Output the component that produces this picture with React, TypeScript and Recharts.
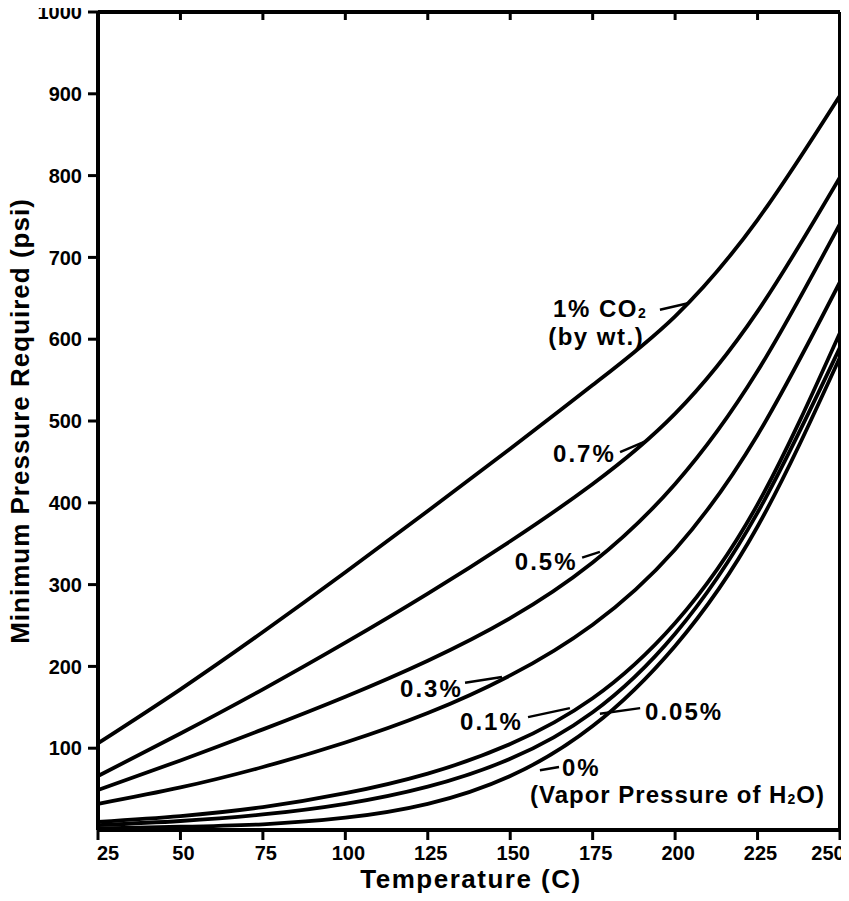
import React from "react";
import {
  LineChart,
  Line,
  XAxis,
  YAxis,
  ReferenceLine,
  ReferenceDot,
} from "recharts";

const FONT = '"Liberation Sans", Arial, Helvetica, sans-serif';

// temperature (C)
const temps = [25, 50, 75, 100, 125, 150, 175, 200, 225, 250];

// minimum pressure (psi) for each CO2 content
const co2_100 = [106, 172, 242, 315, 390, 466, 544, 628, 746, 898];
const co2_070 = [66, 118, 172, 229, 289, 353, 423, 509, 634, 798];
const co2_050 = [49, 85, 123, 163, 207, 259, 327, 423, 561, 741];
const co2_030 = [32, 52, 77, 107, 143, 189, 251, 343, 483, 670];
const co2_010 = [10, 17, 28, 45, 69, 105, 161, 253, 398, 608];
const co2_005 = [6, 11, 19, 32, 53, 87, 144, 240, 388, 590];
const co2_000 = [2, 4, 7, 15, 32, 66, 127, 225, 371, 578];

const xTicks = [25, 50, 75, 100, 125, 150, 175, 200, 225, 250];
const yTicks = [100, 200, 300, 400, 500, 600, 700, 800, 900, 1000];
const yTicksRight = [100, 200, 300, 400, 500, 600, 700, 800, 900];

const seriesKeys = ["c100", "c070", "c050", "c030", "c010", "c005", "c000"];
const seriesValues = [co2_100, co2_070, co2_050, co2_030, co2_010, co2_005, co2_000];

const data = temps.map((t, i) => {
  const row: Record<string, number> = { t };
  seriesKeys.forEach((k, j) => {
    row[k] = seriesValues[j][i];
  });
  return row;
});

// curve labels: anchor (temp, psi) is the text start / baseline
type Part = { s: string; sub?: boolean };
const curveLabels: { t: number; p: number; ls: number; parts: Part[] }[] = [
  { t: 163, p: 627, ls: 1.5, parts: [{ s: "1% CO" }, { s: "2", sub: true }] },
  { t: 161.5, p: 593, ls: 1.5, parts: [{ s: "(by wt.)" }] },
  { t: 163, p: 450, ls: 2, parts: [{ s: "0.7%" }] },
  { t: 151.4, p: 318, ls: 2, parts: [{ s: "0.5%" }] },
  { t: 116.6, p: 163, ls: 2, parts: [{ s: "0.3%" }] },
  { t: 134.8, p: 122, ls: 2, parts: [{ s: "0.1%" }] },
  { t: 190.9, p: 134, ls: 2, parts: [{ s: "0.05%" }] },
  { t: 165.7, p: 66, ls: 2, parts: [{ s: "0%" }] },
  {
    t: 156,
    p: 33,
    ls: 1,
    parts: [{ s: "(Vapor Pressure of H" }, { s: "2", sub: true }, { s: "O)" }],
  },
];

// leader lines from label to curve
const leaders: [number, number, number, number][] = [
  [195.4, 636, 203.9, 644],
  [183.3, 462, 191.5, 476],
  [171.8, 333, 177.2, 340],
  [136.3, 180, 147.5, 187],
  [155.4, 138, 168.1, 149],
  [189.4, 149, 177.2, 142],
  [159.0, 73, 164.8, 77],
];

const XTick = (props: any) => {
  const { x, y, payload } = props;
  const v = payload.value;
  const shift = v === 25 ? 10 : v === 250 ? -12 : 3;
  return (
    <text
      x={x + shift}
      y={y}
      dy="0.71em"
      textAnchor="middle"
      fill="#000"
      fontFamily={FONT}
      fontWeight={700}
      fontSize={20}
    >
      {v}
    </text>
  );
};

const renderLabel = (parts: Part[], ls: number) => (p: any) =>
  (
    <text
      x={p.cx}
      y={p.cy}
      fill="#000"
      fontFamily={FONT}
      fontWeight={700}
      fontSize={24}
      letterSpacing={ls}
    >
      {parts.map((part, i) =>
        part.sub ? (
          <tspan key={i} fontSize={14} dy={1}>
            {part.s}
          </tspan>
        ) : (
          <tspan key={i} dy={i > 0 ? -1 : 0}>
            {part.s}
          </tspan>
        )
      )}
    </text>
  );

const axisLine = { stroke: "#000", strokeWidth: 4 };
const tickLine = { stroke: "#000", strokeWidth: 3 };

export default function App() {
  return (
    <div
      style={{
        width: 849,
        height: 901,
        marginLeft: -8,
        marginTop: -8,
        background: "#fff",
      }}
    >
      <LineChart
        width={849}
        height={901}
        data={data}
        margin={{ top: 12, right: 9, bottom: 0, left: 8 }}
      >
        <XAxis
          xAxisId="b"
          dataKey="t"
          type="number"
          domain={[25, 250]}
          ticks={xTicks}
          height={71}
          tickSize={10}
          tickMargin={6}
          axisLine={axisLine}
          tickLine={tickLine}
          tick={<XTick />}
          interval={0}
          label={{
            content: (p: any) => (
              <text
                x={p.viewBox.x + p.viewBox.width / 2 + 2}
                y={p.viewBox.y + 58}
                textAnchor="middle"
                fill="#000"
                fontFamily={FONT}
                fontWeight={700}
                fontSize={26}
                letterSpacing={1.5}
              >
                Temperature (C)
              </text>
            ),
          }}
        />
        <XAxis
          xAxisId="t"
          dataKey="t"
          type="number"
          orientation="top"
          mirror
          domain={[25, 250]}
          ticks={xTicks}
          tickSize={8}
          axisLine={axisLine}
          tickLine={tickLine}
          tickFormatter={() => ""}
          interval={0}
        />
        <YAxis
          yAxisId="l"
          type="number"
          domain={[0, 1000]}
          ticks={yTicks}
          width={90}
          tickSize={10}
          tickMargin={6}
          axisLine={axisLine}
          tickLine={tickLine}
          interval={0}
          tick={{
            fill: "#000",
            fontFamily: FONT,
            fontWeight: 700,
            fontSize: 20,
          }}
          label={{
            content: (p: any) => {
              const cx = 29;
              const cy = p.viewBox.y + p.viewBox.height / 2;
              return (
                <text
                  x={cx}
                  y={cy}
                  transform={`rotate(-90 ${cx} ${cy})`}
                  textAnchor="middle"
                  fill="#000"
                  fontFamily={FONT}
                  fontWeight={700}
                  fontSize={26}
                  letterSpacing={1}
                >
                  Minimum Pressure Required (psi)
                </text>
              );
            },
          }}
        />
        <YAxis
          yAxisId="r"
          orientation="right"
          mirror
          type="number"
          domain={[0, 1000]}
          ticks={yTicksRight}
          tickSize={8}
          axisLine={axisLine}
          tickLine={tickLine}
          tickFormatter={() => ""}
          interval={0}
        />

        {seriesKeys.map((k) => (
          <Line
            key={k}
            xAxisId="b"
            yAxisId="l"
            type="natural"
            dataKey={k}
            stroke="#000"
            strokeWidth={3.8}
            dot={false}
            activeDot={false}
            isAnimationActive={false}
          />
        ))}

        {leaders.map((l, i) => (
          <ReferenceLine
            key={"ld" + i}
            xAxisId="b"
            yAxisId="l"
            segment={[
              { x: l[0], y: l[1] },
              { x: l[2], y: l[3] },
            ]}
            stroke="#000"
            strokeWidth={2.5}
          />
        ))}

        {curveLabels.map((c, i) => (
          <ReferenceDot
            key={"lb" + i}
            xAxisId="b"
            yAxisId="l"
            x={c.t}
            y={c.p}
            r={1}
            shape={renderLabel(c.parts, c.ls)}
          />
        ))}
      </LineChart>
    </div>
  );
}
